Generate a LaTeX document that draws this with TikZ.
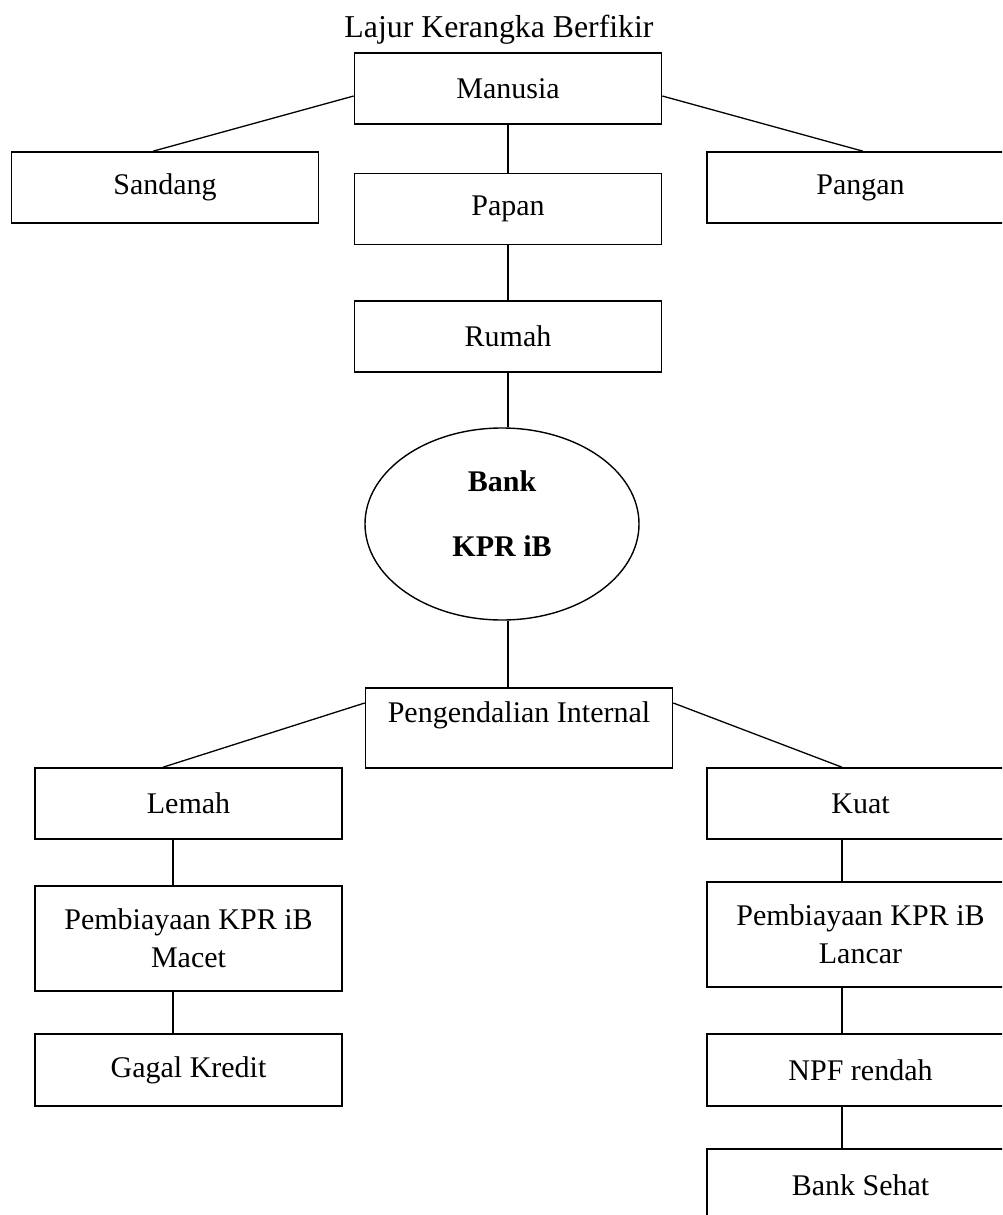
\documentclass[tikz,border=0pt]{standalone}
\usepackage{fontspec}
\setmainfont{Liberation Serif}
\usetikzlibrary{shapes.geometric}
\tikzset{
  kotak/.style={draw, line width=1.6pt, minimum width=307pt, minimum height=71pt, inner sep=0pt, align=center},
  bulat/.style={draw, ellipse, line width=1.4pt, minimum width=274pt, minimum height=192pt, inner sep=0pt, align=center, font=\fontsize{30}{38}\selectfont\bfseries},
  garis/.style={line width=1.3pt}
}
\begin{document}
\begin{tikzpicture}[x=1pt, y=-1pt, font=\fontsize{30}{38}\selectfont]
  \path[use as bounding box, clip] (0,0) rectangle (1002,1215);

  \node[font=\fontsize{31.8}{38}\selectfont] (judul) at (499,30) {Lajur Kerangka Berfikir};

  \node[kotak] (manusia) at (508,88.5)   {Manusia};
  \node[kotak] (sandang) at (165,187.5)  {Sandang};
  \node[kotak] (papan)   at (508,209)    {Papan};
  \node[kotak] (pangan)  at (860.5,187.5) {Pangan};
  \node[kotak] (rumah)   at (508,336.5)  {Rumah};
  \node[bulat, text depth=20pt] (bank) at (502,524) {Bank\\[27pt]KPR iB};
  \node[kotak, minimum height=80pt, text height=21pt, text depth=33pt] (pi) at (519,728) {Pengendalian Internal};

  % cabang kiri
  \node[kotak] (lemah) at (188.5,803.5) {Lemah};
  \node[kotak, minimum height=105pt] (macet) at (188.5,938.5) {Pembiayaan KPR iB\\Macet};
  \node[kotak, minimum height=72pt] (gagal) at (188.5,1070) {Gagal Kredit};

  % cabang kanan
  \node[kotak] (kuat) at (860.5,803.5) {Kuat};
  \node[kotak, minimum height=105pt] (lancar) at (860.5,934.5) {Pembiayaan KPR iB\\Lancar};
  \node[kotak, minimum height=72pt] (npf) at (860.5,1070) {NPF rendah};
  \node[kotak, minimum height=72pt] (sehat) at (860.5,1185) {Bank Sehat};

  \draw[garis] ([yshift=-7.5pt]manusia.west) -- ([xshift=-12pt]sandang.north);
  \draw[garis] ([yshift=-7.5pt]manusia.east) -- ([xshift=2.5pt]pangan.north);
  \draw[garis] (manusia) -- (papan);
  \draw[garis] (papan) -- (rumah);
  \draw[garis] (rumah.south) -- (rumah.south |- bank.north);
  \draw[garis] (bank.south -| rumah.south) -- (pi.north -| rumah.south);

  \draw[garis] ([yshift=25pt]pi.west) -- ([xshift=-25.5pt]lemah.north);
  \draw[garis] ([yshift=25pt]pi.east) -- ([xshift=-18.5pt]kuat.north);

  \draw[garis] ([xshift=-15.5pt]lemah.south) -- ([xshift=-15.5pt]macet.north);
  \draw[garis] ([xshift=-15.5pt]macet.south) -- ([xshift=-15.5pt]gagal.north);

  \draw[garis] ([xshift=-18.5pt]kuat.south) -- ([xshift=-18.5pt]lancar.north);
  \draw[garis] ([xshift=-18.5pt]lancar.south) -- ([xshift=-18.5pt]npf.north);
  \draw[garis] ([xshift=-18.5pt]npf.south) -- ([xshift=-18.5pt]sehat.north);
\end{tikzpicture}
\end{document}
